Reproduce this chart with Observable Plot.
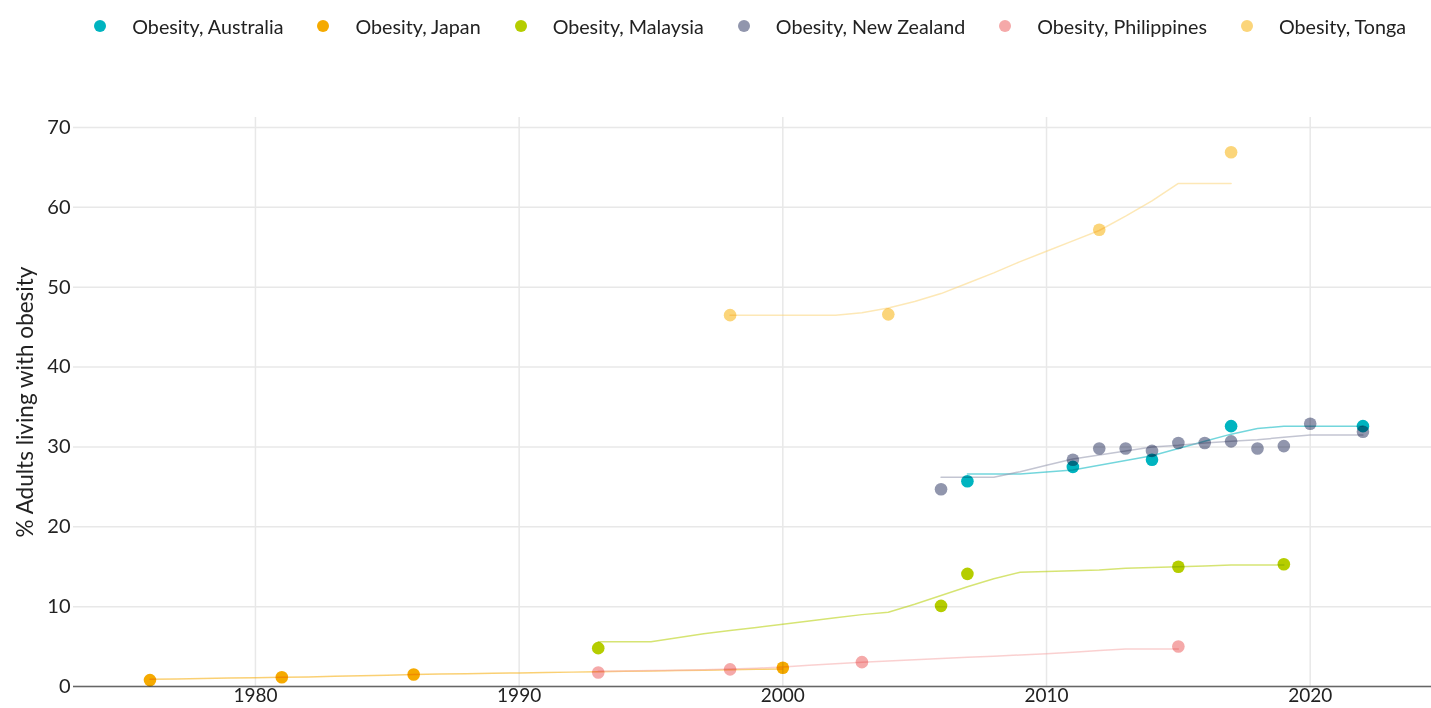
<!DOCTYPE html>
<html>
<head>
<meta charset="utf-8">
<script src="https://cdn.jsdelivr.net/npm/d3@7"></script>
<script src="https://cdn.jsdelivr.net/npm/@observablehq/plot@0.6"></script>
<style>
  body { margin: 0; background: #fff; font-family: Lato, "Noto Sans", sans-serif; overflow: hidden; }
  #legend { height: 52px; display: flex; justify-content: flex-end; align-items: center; padding-right: 25px; box-sizing: border-box; font-size: 19.7px; color: #222; }
  .item { display: flex; align-items: center; margin-left: 34px; }
  .sw { width: 12px; height: 12px; border-radius: 50%; margin-right: 26px; }
</style>
</head>
<body>
<div id="legend"></div>
<div id="chart"></div>
<script>
const countries = ["Australia", "Japan", "Malaysia", "New Zealand", "Philippines", "Tonga"];
const colors = ["#00b4c0", "#f5aa00", "#b5cd00", "#9196ad", "#f5a9a9", "#fbd57a"];
const yTicks = [0, 10, 20, 30, 40, 50, 60, 70];
const xTicks = [1980, 1990, 2000, 2010, 2020];

// observed survey points
const ausYears = [2007, 2011, 2014, 2017, 2022];
const ausVals  = [25.7, 27.5, 28.4, 32.6, 32.6];
const japYears = [1976, 1981, 1986, 2000];
const japVals  = [0.8, 1.15, 1.5, 2.35];
const malYears = [1993, 2006, 2007, 2015, 2019];
const malVals  = [4.8, 10.1, 14.1, 15.0, 15.3];
const nzYears  = [2006, 2011, 2012, 2013, 2014, 2015, 2016, 2017, 2018, 2019, 2020, 2022];
const nzVals   = [24.7, 28.4, 29.8, 29.8, 29.5, 30.5, 30.5, 30.7, 29.8, 30.1, 32.9, 31.9];
const phiYears = [1993, 1998, 2003, 2015];
const phiVals  = [1.75, 2.15, 3.05, 5.0];
const tonYears = [1998, 2004, 2012, 2017];
const tonVals  = [46.5, 46.6, 57.2, 66.9];

// trend lines (one value per year from start year)
const ausTrendStart = 2007;
const ausTrend = [26.6, 26.6, 26.6, 26.85, 27.1, 27.7, 28.3, 28.9, 29.8, 30.7, 31.6, 32.3, 32.6, 32.6, 32.6, 32.6];
const japTrendStart = 1976;
const japTrend = [0.9, 0.95, 1.0, 1.05, 1.1, 1.15, 1.2, 1.27, 1.34, 1.42, 1.5, 1.55, 1.6, 1.65, 1.7, 1.75, 1.8, 1.85, 1.9, 1.95, 2.0, 2.05, 2.1, 2.15, 2.2];
const malTrendStart = 1993;
const malTrend = [5.6, 5.6, 5.6, 6.1, 6.6, 7.0, 7.4, 7.8, 8.2, 8.6, 9.0, 9.3, 10.3, 11.4, 12.5, 13.5, 14.3, 14.4, 14.5, 14.6, 14.8, 14.9, 15.0, 15.1, 15.2, 15.2, 15.2];
const nzTrendStart = 2006;
const nzTrend = [26.2, 26.2, 26.2, 26.9, 27.7, 28.5, 29.0, 29.5, 30.0, 30.2, 30.5, 30.7, 30.9, 31.2, 31.5, 31.5, 31.5];
const phiTrendStart = 1993;
const phiTrend = [1.9, 1.95, 2.0, 2.05, 2.1, 2.2, 2.3, 2.45, 2.65, 2.85, 3.05, 3.2, 3.35, 3.5, 3.65, 3.8, 3.95, 4.1, 4.3, 4.5, 4.7, 4.7, 4.7];
const tonTrendStart = 1998;
const tonTrend = [46.5, 46.5, 46.5, 46.5, 46.5, 46.8, 47.4, 48.2, 49.2, 50.5, 51.8, 53.2, 54.5, 55.8, 57.1, 58.9, 60.8, 63.0, 63.0, 63.0];

const pointSets = [[ausYears, ausVals], [japYears, japVals], [malYears, malVals], [nzYears, nzVals], [phiYears, phiVals], [tonYears, tonVals]];
const trendSets = [[ausTrendStart, ausTrend], [japTrendStart, japTrend], [malTrendStart, malTrend], [nzTrendStart, nzTrend], [phiTrendStart, phiTrend], [tonTrendStart, tonTrend]];

const points = [];
pointSets.forEach(([ys, vs], i) => ys.forEach((y, j) => points.push({country: countries[i], year: y, value: vs[j]})));
const trends = [];
trendSets.forEach(([s, vs], i) => vs.forEach((v, j) => trends.push({country: countries[i], year: s + j, value: v})));

// legend
const legend = document.getElementById("legend");
countries.forEach((c, i) => {
  const it = document.createElement("div");
  it.className = "item";
  it.innerHTML = `<span class="sw" style="background:${colors[i]}"></span><span>Obesity, ${c}</span>`;
  legend.appendChild(it);
});

const chart = Plot.plot({
  width: 1431,
  height: 656,
  marginTop: 65,
  marginLeft: 73,
  marginRight: 0,
  marginBottom: 22,
  style: {fontFamily: "Lato, 'Noto Sans', sans-serif", fontSize: "19px", color: "#222", background: "#fff"},
  x: {domain: [1973.1, 2024.6], label: null},
  y: {domain: [0, 71.25], label: null},
  color: {domain: countries, range: colors},
  marks: [
    Plot.gridX(xTicks, {stroke: "#e8e8e8", strokeOpacity: 1, strokeWidth: 1.5}),
    Plot.gridY(yTicks, {stroke: "#e8e8e8", strokeOpacity: 1, strokeWidth: 1.5}),
    Plot.ruleY([0], {stroke: "#666", strokeWidth: 1.5}),
    Plot.line(trends, {x: "year", y: "value", z: "country", stroke: "country", strokeWidth: 1.5, strokeOpacity: 0.55}),
    Plot.dot(points, {x: "year", y: "value", fill: "country", r: 6.3, mixBlendMode: "multiply"}),
    Plot.axisX(xTicks, {tickSize: 0, tickPadding: 2, tickFormat: d => String(d), fontSize: 19, label: null}),
    Plot.axisY(yTicks, {tickSize: 0, tickPadding: 3, fontSize: 20, label: null}),
    Plot.text(["% Adults living with obesity"], {frameAnchor: "left", textAnchor: "middle", rotate: -90, dx: -48, fontSize: 22.5, fill: "#222"})
  ]
});
document.getElementById("chart").appendChild(chart);
</script>
</body>
</html>
